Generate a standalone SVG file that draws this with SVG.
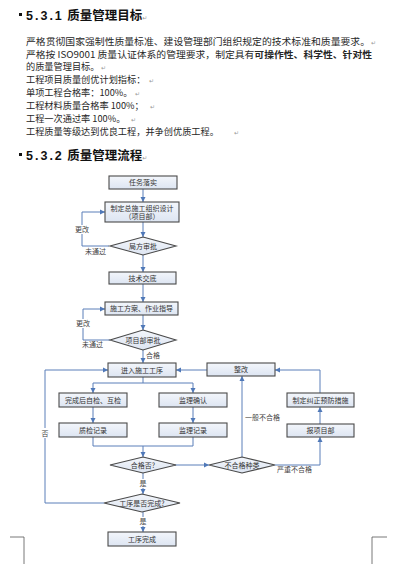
<svg xmlns="http://www.w3.org/2000/svg" width="401" height="564" viewBox="0 0 401 564">
<defs>
<linearGradient id="bx" x1="0" y1="0" x2="0" y2="1">
<stop offset="0" stop-color="#f3f6fb"/>
<stop offset="1" stop-color="#dde5f2"/>
</linearGradient>
<marker id="ah" markerWidth="6" markerHeight="6" refX="5" refY="3" orient="auto" markerUnits="userSpaceOnUse">
<path d="M0,0.5 L5,3 L0,5.5 Z" fill="#4f78b8"/>
</marker>
</defs>
<style>
.h{font-family:"Liberation Sans","Noto Sans CJK SC",sans-serif;font-weight:bold;font-size:12.5px;fill:#111}
.b{font-family:"Noto Sans CJK SC",sans-serif;font-size:9.2px;fill:#262626}
.pm{font-family:"DejaVu Sans",sans-serif;font-size:6px;fill:#999}
.box{fill:url(#bx);stroke:#4a4a4a;stroke-width:1.1}
.t{font-family:"Noto Sans CJK SC",serif;font-size:7px;fill:#333;text-anchor:middle}
.lb{font-family:"Noto Sans CJK SC",serif;font-size:7px;fill:#444}
.c{fill:none;stroke:#5b7fb9;stroke-width:1}
.a{marker-end:url(#ah)}
.crop{fill:none;stroke:#555;stroke-width:0.8}
</style>
<rect width="401" height="564" fill="#fff"/>

<g id="heading1">
<rect x="19" y="13" width="3" height="3" fill="#111"/>
<text class="h" x="26" y="20"><tspan letter-spacing="2">5.3.1</tspan> 质量管理目标<tspan class="pm" font-weight="normal" font-size="9">↵</tspan></text>
</g>
<g id="body">
<text class="b" x="26" y="45" textLength="344" lengthAdjust="spacingAndGlyphs">严格贯彻国家强制性质量标准、建设管理部门组织规定的技术标准和质量要求。</text><text class="pm" x="371" y="45">↵</text>
<text class="b" x="26" y="57.5" textLength="346" lengthAdjust="spacingAndGlyphs">严格按 ISO9001 质量认证体系的管理要求，制定具有<tspan font-weight="bold">可操作性、科学性、针对性</tspan></text>
<text class="b" x="26" y="70">的质量管理目标。</text><text class="pm" x="101" y="70">↵</text>
<text class="b" x="26" y="82.5">工程项目质量创优计划指标：</text><text class="pm" x="149" y="82.5">↵</text>
<text class="b" x="26" y="95.5">单项工程合格率：100%。</text><text class="pm" x="135" y="95.5">↵</text>
<text class="b" x="26" y="108.5">工程材料质量合格率 100%；</text><text class="pm" x="150" y="108.5">↵</text>
<text class="b" x="26" y="121.5">工程一次通过率 100%。</text><text class="pm" x="131" y="121.5">↵</text>
<text class="b" x="26" y="134.5">工程质量等级达到优良工程，并争创优质工程。</text><text class="pm" x="234" y="134.5">↵</text>
</g>
<g id="heading2">
<rect x="19" y="153" width="3" height="3" fill="#111"/>
<text class="h" x="26" y="160"><tspan letter-spacing="2">5.3.2</tspan> 质量管理流程<tspan class="pm" font-weight="normal" font-size="9">↵</tspan></text>
</g>

<g id="connectors">
<path class="c a" d="M143,189 V202"/>
<path class="c a" d="M143,222 V237"/>
<path class="c a" d="M143,255 V272"/>
<path class="c a" d="M109,246 H82 V212 H105"/>
<path class="c a" d="M143,284 V302"/>
<path class="c a" d="M143,315 V330"/>
<path class="c a" d="M110,340 H83 V309 H105"/>
<path class="c a" d="M143,349 V363"/>
<path class="c" d="M143,377 V383 M93,383 H193"/>
<path class="c a" d="M93,383 V393"/>
<path class="c a" d="M193,383 V393"/>
<path class="c a" d="M93,407 V423"/>
<path class="c a" d="M193,407 V423"/>
<path class="c" d="M93,437 V446 H193 V437"/>
<path class="c a" d="M143,446 V457"/>
<path class="c a" d="M175,465 H209"/>
<path class="c a" d="M143,473 V494"/>
<path class="c a" d="M143,512 V532"/>
<path class="c a" d="M104,503 H45 V370 H108"/>
<path class="c a" d="M242,457 V376"/>
<path class="c a" d="M275,465 H320 V437"/>
<path class="c a" d="M320,424 V407"/>
<path class="c a" d="M320,393 V370 H275"/>
<path class="c a" d="M207,370 H176"/>
<rect x="74" y="225" width="16" height="9" fill="#fff"/>
<text class="lb" x="75" y="232">更改</text>
<text class="lb" x="85" y="254">未通过</text>
<rect x="75" y="319" width="16" height="9" fill="#fff"/>
<text class="lb" x="76" y="326">更改</text>
<text class="lb" x="82" y="347">未通过</text>
<text class="lb" x="146" y="358">合格</text>
<rect x="40" y="428" width="10" height="10" fill="#fff"/>
<text class="lb" x="41.5" y="436">否</text>
<rect x="139" y="479" width="8" height="9" fill="#fff"/>
<text class="lb" x="139.5" y="486">是</text>
<rect x="139" y="517" width="8" height="9" fill="#fff"/>
<text class="lb" x="139.5" y="524">是</text>
<text class="lb" x="245" y="420">一般不合格</text>
<text class="lb" x="277" y="472">严重不合格</text>
</g>

<g id="n1"><rect class="box" x="109" y="176" width="68" height="13"/><text class="t" x="143" y="185">任务落实</text></g>
<g id="n2"><rect class="box" x="105" y="202" width="74" height="20"/><text class="t" x="142" y="210.5">制定总施工组织设计</text><text class="t" x="142" y="219">（项目部）</text></g>
<g id="n3"><path class="box" d="M143,237 L176,246 L143,255 L110,246 Z"/><text class="t" x="143" y="248.5">局方审批</text></g>
<g id="n4"><rect class="box" x="109" y="272" width="67" height="12"/><text class="t" x="142.5" y="280.5">技术交底</text></g>
<g id="n5"><rect class="box" x="105" y="302" width="73" height="13"/><text class="t" x="141.5" y="311">施工方案、作业指导</text></g>
<g id="n6"><path class="box" d="M143,330 L176,340 L143,350 L110,340 Z"/><text class="t" x="143" y="342.5">项目部审批</text></g>
<g id="n7"><rect class="box" x="108" y="363" width="68" height="14"/><text class="t" x="142" y="372.5">进入施工工序</text></g>
<g id="n8"><rect class="box" x="59" y="393" width="68" height="14"/><text class="t" x="93" y="402.5">完成后自检、互检</text></g>
<g id="n9"><rect class="box" x="159" y="393" width="68" height="14"/><text class="t" x="193" y="402.5">监理确认</text></g>
<g id="n10"><rect class="box" x="59" y="423" width="68" height="14"/><text class="t" x="93" y="432.5">质检记录</text></g>
<g id="n11"><rect class="box" x="159" y="423" width="68" height="14"/><text class="t" x="193" y="432.5">监理记录</text></g>
<g id="n12"><path class="box" d="M143,457 L176,465 L143,473 L110,465 Z"/><text class="t" x="143" y="467.5">合格否?</text></g>
<g id="n13"><path class="box" d="M242,457 L275,465 L242,473 L209,465 Z"/><text class="t" x="242" y="467.5">不合格种类</text></g>
<g id="n14"><path class="box" d="M142,494 L180,503 L142,512 L104,503 Z"/><text class="t" x="142" y="505.5">工序是否完成?</text></g>
<g id="n15"><rect class="box" x="108" y="532" width="68" height="14"/><text class="t" x="142" y="541.5">工序完成</text></g>
<g id="n16"><rect class="box" x="207" y="363" width="68" height="13"/><text class="t" x="241" y="372">整改</text></g>
<g id="n17"><rect class="box" x="287" y="393" width="67" height="14"/><text class="t" x="320.5" y="402.5">制定纠正预防措施</text></g>
<g id="n18"><rect class="box" x="287" y="424" width="67" height="13"/><text class="t" x="320.5" y="433">报项目部</text></g>

<g id="cropmarks">
<path class="crop" d="M10,537 H24 V564"/>
<path class="crop" d="M387,537 H372 V564"/>
</g>
</svg>
